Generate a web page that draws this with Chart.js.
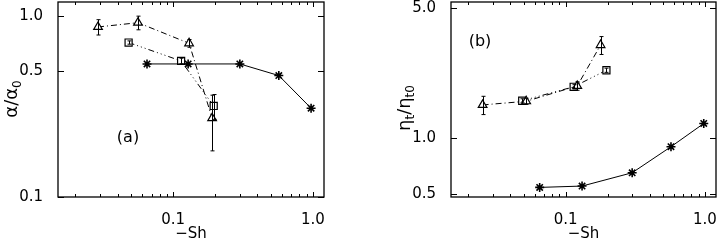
<!DOCTYPE html>
<html>
<head>
<meta charset="utf-8">
<script src="https://cdn.jsdelivr.net/npm/chart.js@4.4.0/dist/chart.umd.min.js"></script>
<style>
  html, body { margin: 0; padding: 0; background: #fff; }
  #wrap { position: relative; width: 718px; height: 242px; overflow: hidden; }
  .panel { position: absolute; top: 0; height: 242px; }
  #pa { left: 0; width: 358px; }
  #pb { left: 358px; width: 360px; }
</style>
</head>
<body>
<div id="wrap">
  <div class="panel" id="pa"><canvas id="chart-a"></canvas></div>
  <div class="panel" id="pb"><canvas id="chart-b"></canvas></div>
</div>
<script>
// DATOS PANEL (a)
const shStarA = [0.065, 0.128, 0.30, 0.57, 0.97];
const alphaStar = [0.545, 0.545, 0.545, 0.47, 0.31];
const shTriA = [0.029, 0.056, 0.130, 0.190];
const alphaTri = [0.873, 0.922, 0.709, 0.273];
const alphaTriErr = [0.085, 0.08, 0.035, 0.093];
const shSqA = [0.048, 0.114, 0.195];
const alphaSq = [0.716, 0.566, 0.319];
const alphaSqErr = [0.015, 0.02, 0.05];

// DATOS PANEL (b)
const shStarB = [0.065, 0.131, 0.30, 0.57, 0.98];
const etaStar = [0.544, 0.553, 0.652, 0.90, 1.20];
const shTriB = [0.0253, 0.052, 0.121, 0.178];
const etaTri = [1.51, 1.58, 1.91, 3.17];
const etaTriErr = [0.17, 0.06, 0.1, 0.35];
const shSqB = [0.0487, 0.114, 0.196];
const etaSq = [1.59, 1.89, 2.32];
const etaSqErr = [0.04, 0.05, 0.06];

// MARCAS DE LOS EJES
const xTicks = [0.1, 1.0];
const xMinor = [0.02, 0.03, 0.04, 0.05, 0.06, 0.07, 0.08, 0.09, 0.2, 0.3, 0.4, 0.5, 0.6, 0.7, 0.8, 0.9];
const yTicksA = [0.1, 0.5, 1.0];
const yTicksB = [0.5, 1.0, 5.0];

const FONT = 'DejaVu Sans';

function toPoints(xs, ys) {
  return xs.map((v, i) => ({ x: v, y: ys[i] }));
}

// CAJA, MARCAS HACIA DENTRO, BARRAS DE ERROR Y TEXTOS
const framePlugin = {
  id: 'frame',
  afterDatasetsDraw(chart, args, opts) {
    const { ctx, chartArea: a, scales } = chart;
    const x = scales.x, y = scales.y;
    ctx.save();
    ctx.strokeStyle = '#000';
    ctx.lineWidth = 1;

    // barras de error
    chart.data.datasets.forEach(ds => {
      if (!ds.errores) return;
      ds.data.forEach((p, j) => {
        const e = ds.errores[j];
        const px = Math.round(x.getPixelForValue(p.x)) + 0.5;
        const t = y.getPixelForValue(p.y + e);
        const b = y.getPixelForValue(p.y - e);
        ctx.beginPath();
        ctx.moveTo(px, t); ctx.lineTo(px, b);
        ctx.moveTo(px - 2, t); ctx.lineTo(px + 2, t);
        ctx.moveTo(px - 2, b); ctx.lineTo(px + 2, b);
        ctx.stroke();
      });
    });

    // caja
    ctx.lineWidth = 1.3;
    ctx.strokeRect(a.left, a.top, a.right - a.left, a.bottom - a.top);

    // marcas
    ctx.lineWidth = 1;
    ctx.beginPath();
    const xt = (v, len) => {
      const px = Math.round(x.getPixelForValue(v)) + 0.5;
      ctx.moveTo(px, a.bottom); ctx.lineTo(px, a.bottom - len);
      ctx.moveTo(px, a.top); ctx.lineTo(px, a.top + len);
    };
    xTicks.forEach(v => xt(v, 5));
    xMinor.forEach(v => xt(v, 3));
    opts.yTicks.forEach(v => {
      const py = Math.round(y.getPixelForValue(v)) + 0.5;
      ctx.moveTo(a.left, py); ctx.lineTo(a.left + 6, py);
      ctx.moveTo(a.right, py); ctx.lineTo(a.right - 6, py);
    });
    ctx.stroke();

    // etiqueta del panel
    ctx.fillStyle = '#000';
    ctx.font = '16px "' + FONT + '"';
    ctx.textAlign = 'center';
    ctx.textBaseline = 'middle';
    ctx.fillText(opts.tag, opts.tagX, opts.tagY);

    // titulo del eje y con subindices
    ctx.translate(opts.titleX, opts.titleY);
    ctx.rotate(-Math.PI / 2);
    ctx.textAlign = 'left';
    ctx.textBaseline = 'alphabetic';
    const big = '18px "' + FONT + '"';
    const small = '12px "' + FONT + '"';
    let w = 0;
    opts.title.forEach(p => { ctx.font = p.sub ? small : big; w += ctx.measureText(p.t).width; });
    let cx = -w / 2;
    opts.title.forEach(p => {
      ctx.font = p.sub ? small : big;
      ctx.fillText(p.t, cx, p.sub ? 4 : 0);
      cx += ctx.measureText(p.t).width;
    });
    ctx.restore();
  }
};

function makeChart(id, cfg) {
  const black = '#000';
  return new Chart(document.getElementById(id), {
    type: 'scatter',
    data: {
      datasets: [
        {
          data: cfg.star,
          showLine: true,
          borderColor: black,
          borderWidth: 1,
          pointStyle: 'star',
          pointRadius: 4.5,
          pointBorderColor: black,
          pointBorderWidth: 1.6
        },
        {
          data: cfg.tri,
          errores: cfg.triErr,
          showLine: true,
          borderColor: black,
          borderWidth: 1,
          borderDash: [6, 3, 1, 3],
          pointStyle: 'triangle',
          pointRadius: 5,
          pointBackgroundColor: '#fff',
          pointBorderColor: black,
          pointBorderWidth: 1.2
        },
        {
          data: cfg.sq,
          errores: cfg.sqErr,
          showLine: true,
          borderColor: black,
          borderWidth: 1,
          borderDash: [6, 3, 1, 3, 1, 3, 1, 3],
          pointStyle: 'rect',
          pointRadius: 5,
          pointBackgroundColor: '#fff',
          pointBorderColor: black,
          pointBorderWidth: 1.2
        }
      ]
    },
    options: {
      responsive: true,
      maintainAspectRatio: false,
      animation: false,
      clip: false,
      layout: { padding: cfg.padding, autoPadding: false },
      plugins: {
        legend: { display: false },
        tooltip: { enabled: false },
        frame: cfg.frame
      },
      scales: {
        x: {
          type: 'logarithmic',
          min: 0.015,
          max: 1.2,
          afterFit: s => { s.height = 45; s.paddingLeft = 0; s.paddingRight = 0; },
          afterBuildTicks: s => { s.ticks = xTicks.map(v => ({ value: v })); },
          grid: { display: false },
          border: { display: false },
          ticks: {
            autoSkip: false,
            maxRotation: 0,
            padding: 6,
            color: '#000',
            font: { family: FONT, size: 15 },
            callback: v => Number(v).toFixed(1)
          },
          title: {
            display: true,
            text: '\u2212Sh',
            color: '#000',
            font: { family: FONT, size: 15, lineHeight: 1 },
            padding: { top: 0, bottom: 0 }
          }
        },
        y: {
          type: 'logarithmic',
          min: cfg.yMin,
          max: cfg.yMax,
          afterFit: s => { s.width = cfg.yWidth; s.paddingTop = 0; s.paddingBottom = 0; },
          afterBuildTicks: s => { s.ticks = cfg.frame.yTicks.map(v => ({ value: v })); },
          grid: { display: false },
          border: { display: false },
          ticks: {
            autoSkip: false,
            padding: 7,
            color: '#000',
            font: { family: FONT, size: 15 },
            callback: v => Number(v).toFixed(1)
          }
        }
      }
    },
    plugins: [framePlugin]
  });
}

// PANEL (a)
makeChart('chart-a', {
  star: toPoints(shStarA, alphaStar),
  tri: toPoints(shTriA, alphaTri),
  triErr: alphaTriErr,
  sq: toPoints(shSqA, alphaSq),
  sqErr: alphaSqErr,
  yMin: 0.1,
  yMax: 1.2,
  yWidth: 58,
  padding: { top: 2, right: 34, left: 0, bottom: 0 },
  frame: {
    yTicks: yTicksA,
    tag: '(a)', tagX: 128, tagY: 138,
    titleX: 17, titleY: 99,
    title: [{ t: '\u03b1' }, { t: '/' }, { t: '\u03b1' }, { t: '0', sub: true }]
  }
});

// PANEL (b)
makeChart('chart-b', {
  star: toPoints(shStarB, etaStar),
  tri: toPoints(shTriB, etaTri),
  triErr: etaTriErr,
  sq: toPoints(shSqB, etaSq),
  sqErr: etaSqErr,
  yMin: 0.483,
  yMax: 5.4,
  yWidth: 93,
  padding: { top: 2, right: 2, left: 0, bottom: 0 },
  frame: {
    yTicks: yTicksB,
    tag: '(b)', tagX: 122, tagY: 42,
    titleX: 52, titleY: 108,
    title: [{ t: '\u03b7' }, { t: 't', sub: true }, { t: '/' }, { t: '\u03b7' }, { t: 't0', sub: true }]
  }
});
</script>
</body>
</html>
